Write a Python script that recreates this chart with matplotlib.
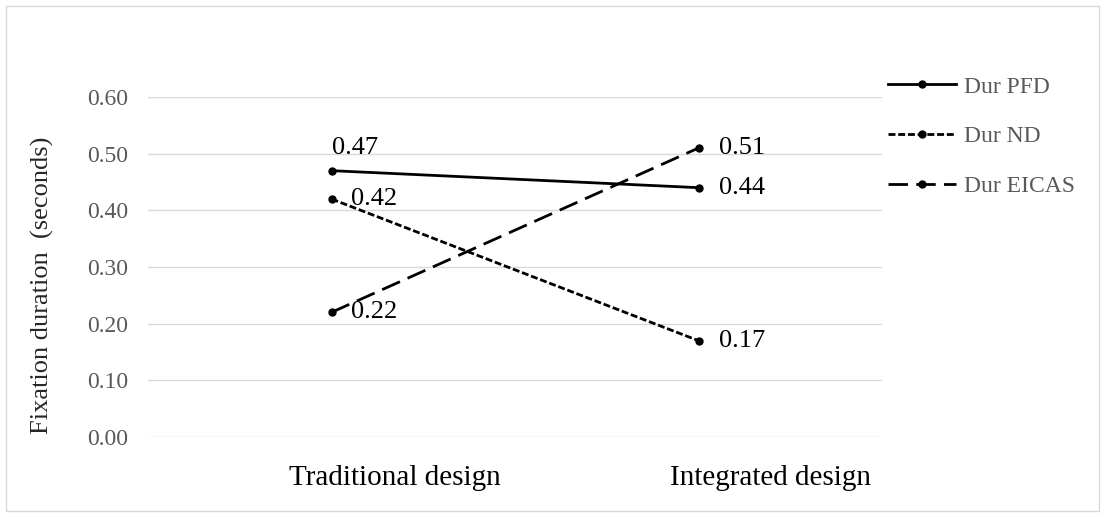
import matplotlib
matplotlib.use('Agg')
import matplotlib.pyplot as plt
from matplotlib.patches import Rectangle
from matplotlib.transforms import ScaledTranslation

plt.rcParams['font.family'] = ['Liberation Serif', 'DejaVu Serif']

# --- data ---
categories = ['Traditional design', 'Integrated design']
series_names = ['Dur PFD', 'Dur ND', 'Dur EICAS']
dur_pfd = [0.47, 0.44]
dur_nd = [0.42, 0.17]
dur_eicas = [0.22, 0.51]
y_ticks = [0.0, 0.1, 0.2, 0.3, 0.4, 0.5, 0.6]

GRID = '#d9d9d9'
TICK_GRAY = '#595959'

fig = plt.figure(figsize=(11.05, 5.17), dpi=100)
ax = fig.add_axes([148 / 1105, 1 - 437 / 517, 734 / 1105, 340 / 517])

x = list(range(len(categories)))
line_kw = dict(color='black', lw=2, marker='o', markersize=5)
ax.plot(x, dur_pfd, label=series_names[0], **line_kw)
ax.plot(x, dur_nd, label=series_names[1], dashes=(2.5, 1), **line_kw)
ax.plot(x, dur_eicas, label=series_names[2], dashes=(7, 3), **line_kw)

# data labels (offsets in pixels)
label_offsets = {
    0: [(24, 23, 'center'), (20, 0, 'left'), (20, 0, 'left')],
    1: [(20, 0, 'left'), (20, 0, 'left'), (20, 0, 'left')],
}
for j, vals in enumerate([dur_pfd, dur_nd, dur_eicas]):
    for i, v in enumerate(vals):
        dx, dy, ha = label_offsets[i][j]
        ax.annotate(f"{v:.2f}", (i, v), xytext=(dx, dy),
                    textcoords='offset pixels', ha=ha, va='center',
                    fontsize=19, color='black')

ax.set_xlim(-0.5, 1.5)
ax.set_ylim(0, 0.6)
ax.set_yticks(y_ticks)
ax.set_yticklabels([f"{t:.2f}" for t in y_ticks], fontsize=17, color=TICK_GRAY)
ax.set_xticks(x)
ax.set_xticklabels(categories, fontsize=21, color='black')
ax.tick_params(axis='both', length=0)
ax.tick_params(axis='y', pad=14)
ax.tick_params(axis='x', pad=20)
for lab, shift in zip(ax.get_xticklabels(), [63, 72]):
    lab.set_transform(lab.get_transform() + ScaledTranslation(shift / 100, 0, fig.dpi_scale_trans))

ax.grid(axis='y', color=GRID, lw=1)
ax.set_axisbelow(True)
for s in ax.spines.values():
    s.set_visible(False)

fig.text(42 / 1105, 1 - 285 / 517, 'Fixation duration  (seconds)', rotation=90,
         ha='center', va='center', fontsize=19, color='#262626')

leg = fig.legend(loc='upper left', bbox_to_anchor=(888 / 1105, 1 - 76 / 517),
                 frameon=False, fontsize=17, handlelength=2.9, handletextpad=0.3,
                 labelspacing=1.2, borderpad=0, borderaxespad=0)
for t in leg.get_texts():
    t.set_color(TICK_GRAY)

# light chart border
fig.patches.append(Rectangle((6 / 1105, 6 / 517), 1093 / 1105, 505 / 517,
                             transform=fig.transFigure, fill=False,
                             edgecolor=GRID, lw=1))

plt.savefig('out.png', dpi=100)
